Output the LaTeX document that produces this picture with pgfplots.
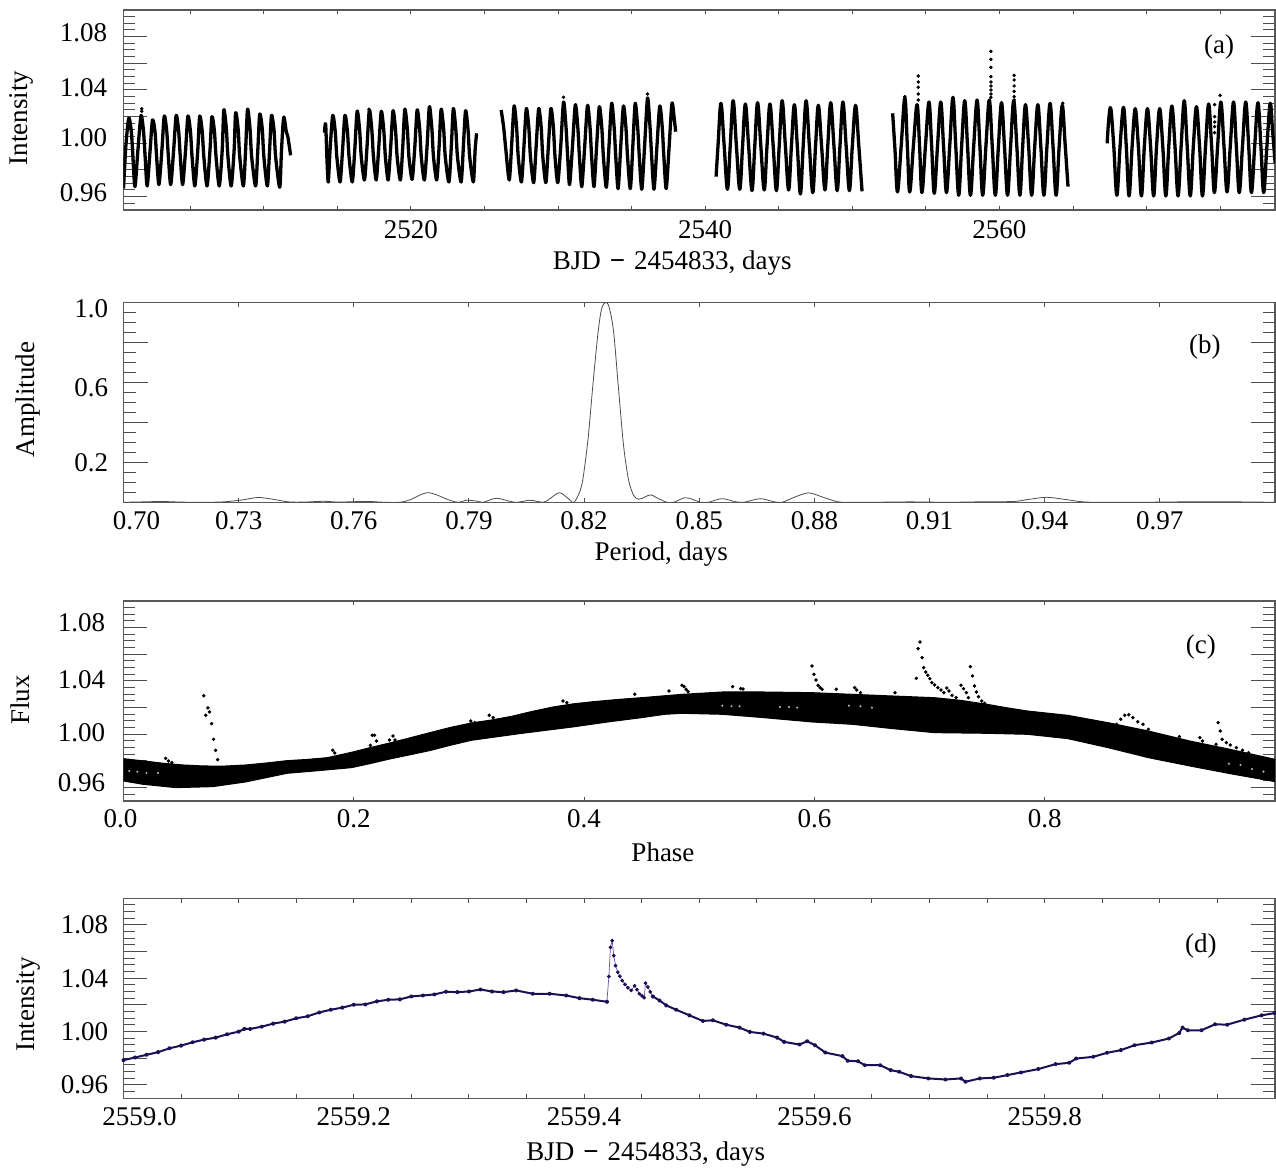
\documentclass[border=0pt]{standalone}
\usepackage{fontspec}
\setmainfont{Liberation Serif}
\usepackage{pgfplots}
\pgfplotsset{compat=1.18}
\newcommand\rb[2]{\raisebox{#1}[9pt][0pt]{#2}}
\definecolor{axgray}{gray}{0.35}
\definecolor{tkgray}{gray}{0.3}
\definecolor{navy}{RGB}{30,15,85}
\definecolor{purp}{RGB}{110,80,170}
\tikzset{panellab/.style={font=\fontsize{13.5}{16}\selectfont,inner sep=0pt}}
\pgfplotsset{
  panel/.style={scale only axis,width=575.75pt,height=100pt,anchor=south west,
    axis line style={axgray,line width=0.65pt},
    tick align=inside,
    every tick/.style={tkgray,line width=0.5pt},
    major tick length=12pt,minor tick length=6pt,
    xtick style={/pgfplots/major tick length=2.2pt,/pgfplots/minor tick length=2.2pt},
    tick label style={inner sep=0pt},
    yticklabel style={anchor=east},
    yticklabel shift=8pt,
    xticklabel style={anchor=north},
    scaled ticks=false,
    every axis label/.style={},
    label style={font=\fontsize{13.5}{16}\selectfont},
    tick label style={font=\fontsize{13.5}{16}\selectfont},
    clip=true},
  flux/.style={ymin=0.95,ymax=1.10,
    ytick={0.96,0.98,1.00,1.02,1.04,1.06,1.08},
    minor ytick={0.955,0.965,0.97,0.975,0.985,0.99,0.995,1.005,1.01,1.015,1.025,1.03,1.035,1.045,1.05,1.055,1.065,1.07,1.075,1.085,1.09,1.095}},
  dots/.style={only marks,mark=*,mark size=0.65pt,black,mark options={draw=black,fill=black}},
  curvea/.style={black,line width=1.65pt,smooth,tension=0.45,line join=round},
  curveb/.style={black,line width=1.65pt,smooth,tension=0.6,line join=round},
  curved/.style={navy,line width=1pt,line join=round,mark=*,mark size=0.6pt,mark options={navy,fill=navy}}
}
\begin{document}
\begin{tikzpicture}
\path[use as bounding box] (0pt,0pt) rectangle (638pt,585.5pt);
% ---------------- (a)
\begin{axis}[panel,flux,at={(61.75pt,480.5pt)},
  xmin=2500.46,xmax=2578.73,
  xtick={2520,2540,2560},xticklabels={2520,2540,2560},
  minor xtick={2505,2510,2515,2525,2530,2535,2545,2550,2555,2565,2570,2575},
  xticklabel shift=5pt,
  yticklabels={\rb{1.85pt}{0.96},,\rb{3.1pt}{1.00},,\rb{1pt}{1.04},,\rb{1.85pt}{1.08}},
  xlabel={BJD\,\,{\bfseries −}\,\,2454833, days},
  xlabel style={at={(rel axis cs:0.4765,0)},anchor=center,yshift=-26.5pt},
  ylabel={Intensity},
  ylabel style={at={(rel axis cs:0,0.46)},anchor=center,yshift=51pt},
]
\addplot[curvea] coordinates {
(2500.46,.966)(2500.62,.998)(2500.82,1.019)(2500.99,1.009)(2501.10,.99)(2501.24,.9675)(2501.44,.995)
(2501.65,1.021)(2501.82,1.009)(2501.93,.99)(2502.07,.968)(2502.27,.995)
(2502.43,1.0175)(2502.60,1.009)(2502.71,.99)(2502.87,.969)(2503.07,.995)
(2503.23,1.0205)(2503.40,1.009)(2503.51,.99)(2503.67,.969)(2503.87,.995)
(2504.04,1.021)(2504.21,1.009)(2504.32,.99)(2504.48,.969)(2504.68,.995)
(2504.84,1.0205)(2505.01,1.009)(2505.12,.99)(2505.31,.968)(2505.51,.995)
(2505.64,1.0205)(2505.81,1.009)(2505.92,.99)(2506.14,.968)(2506.34,.995)
(2506.47,1.02)(2506.64,1.009)(2506.75,.99)(2506.97,.968)(2507.17,.995)
(2507.28,1.025)(2507.45,1.011)(2507.56,.99)(2507.78,.968)(2507.98,.995)
(2508.08,1.023)(2508.25,1.011)(2508.36,.99)(2508.61,.968)(2508.76,.995)
(2508.89,1.0255)(2509.06,1.011)(2509.17,.99)(2509.44,.968)(2509.59,.995)
(2509.72,1.022)(2509.89,1.011)(2510.0,.99)(2510.24,.968)(2510.39,.995)
(2510.52,1.021)(2510.69,1.01)(2510.80,.99)(2511.08,.967)(2511.2,.995)
(2511.35,1.0195)(2511.52,1.009)(2511.63,1.005)(2511.82,.991)};
\addplot[curvea] coordinates {
(2514.12,1.008)(2514.2,1.0145)(2514.3,.985)(2514.38,.971)(2514.5,.995)
(2514.68,1.021)(2514.85,1.009)(2514.96,.99)(2515.18,.971)(2515.35,.995)
(2515.51,1.021)(2515.68,1.009)(2515.79,.99)(2516.01,.971)(2516.18,.995)
(2516.34,1.024)(2516.51,1.01)(2516.62,.99)(2516.84,.9725)(2517.01,.997)
(2517.17,1.025)(2517.34,1.01)(2517.45,.99)(2517.64,.9725)(2517.81,.997)
(2517.98,1.024)(2518.15,1.01)(2518.26,.99)(2518.45,.9725)(2518.62,.997)
(2518.78,1.0245)(2518.95,1.01)(2519.06,.99)(2519.28,.9725)(2519.44,.997)
(2519.58,1.0255)(2519.75,1.011)(2519.86,.99)(2520.08,.973)(2520.26,.997)
(2520.42,1.025)(2520.59,1.011)(2520.70,.99)(2520.91,.9725)(2521.09,.997)
(2521.25,1.0275)(2521.42,1.011)(2521.53,.99)(2521.75,.9725)(2521.91,.997)
(2522.05,1.0255)(2522.22,1.011)(2522.33,.99)(2522.58,.971)(2522.74,.997)
(2522.88,1.026)(2523.05,1.01)(2523.16,.99)(2523.41,.971)(2523.56,.997)
(2523.71,1.0245)(2523.88,1.01)(2523.99,.99)(2524.24,.971)(2524.36,.995)(2524.46,1.0075)};
\addplot[curvea] coordinates {
(2526.13,1.025)(2526.3,1.012)(2526.45,.995)(2526.68,.9725)(2526.85,1.0)
(2527.01,1.028)(2527.18,1.012)(2527.29,.99)(2527.51,.971)(2527.68,.998)
(2527.84,1.026)(2528.01,1.012)(2528.12,.99)(2528.34,.9705)(2528.51,.998)
(2528.68,1.026)(2528.85,1.012)(2528.96,.99)(2529.17,.9705)(2529.34,.998)
(2529.51,1.026)(2529.68,1.012)(2529.79,.99)(2529.98,.9705)(2530.18,.998)
(2530.37,1.031)(2530.54,1.012)(2530.65,.99)(2530.78,.969)(2530.98,.998)
(2531.17,1.029)(2531.34,1.012)(2531.45,.99)(2531.61,.9675)(2531.81,.998)
(2532.00,1.0285)(2532.17,1.012)(2532.28,.99)(2532.44,.9675)(2532.62,.998)
(2532.80,1.0275)(2532.97,1.012)(2533.08,.99)(2533.28,.967)(2533.46,.998)
(2533.64,1.03)(2533.81,1.012)(2533.92,.99)(2534.08,.966)(2534.26,.998)
(2534.44,1.028)(2534.61,1.012)(2534.72,.99)(2534.91,.966)(2535.08,.998)
(2535.24,1.03)(2535.41,1.012)(2535.52,.99)(2535.69,.9655)(2535.88,.998)
(2536.08,1.034)(2536.25,1.012)(2536.36,.99)(2536.52,.9655)(2536.72,.998)
(2536.91,1.028)(2537.08,1.012)(2537.19,.99)(2537.35,.966)(2537.55,.998)
(2537.74,1.03)(2537.9,1.018)(2537.99,1.00875)};
\addplot[curveb] coordinates {
(2540.74,.975)(2540.88,1.0)(2541.07,1.03)(2541.29,.998)(2541.51,.9655)(2541.7,.998)
(2541.90,1.032)(2542.12,.998)(2542.35,.9655)(2542.54,.998)
(2542.73,1.0295)(2542.95,.998)(2543.18,.9645)(2543.37,.998)
(2543.56,1.0305)(2543.78,.998)(2544.01,.965)(2544.2,.998)
(2544.40,1.0295)(2544.62,.998)(2544.84,.9645)(2545.03,.998)
(2545.23,1.032)(2545.45,.998)(2545.67,.965)(2545.86,.998)
(2546.06,1.029)(2546.26,.998)(2546.47,.962)(2546.66,.998)
(2546.86,1.032)(2547.08,.998)(2547.31,.963)(2547.5,.998)
(2547.69,1.0285)(2547.91,.998)(2548.14,.965)(2548.33,.998)
(2548.53,1.0305)(2548.75,.998)(2548.97,.9645)(2549.16,.998)
(2549.36,1.031)(2549.58,.998)(2549.80,.9645)(2550.0,.998)
(2550.22,1.0285)(2550.44,.998)(2550.66,.964)};
\addplot[curveb] coordinates {
(2552.74,1.0225)(2552.9,.995)(2553.07,.9635)(2553.32,.998)
(2553.57,1.034)(2553.74,.998)(2553.90,.9635)(2554.15,.998)
(2554.40,1.029)(2554.57,.998)(2554.73,.963)(2554.97,.998)
(2555.21,1.031)(2555.39,.998)(2555.57,.9625)(2555.79,.998)
(2556.01,1.031)(2556.2,.998)(2556.40,.963)(2556.62,.998)
(2556.84,1.0345)(2557.03,.998)(2557.23,.961)(2557.43,.998)
(2557.64,1.032)(2557.83,.998)(2558.03,.961)(2558.25,.998)
(2558.48,1.0325)(2558.67,.998)(2558.86,.961)(2559.08,.998)
(2559.31,1.0325)(2559.51,.998)(2559.72,.961)(2559.93,.998)
(2560.14,1.0305)(2560.34,.998)(2560.55,.961)(2560.76,.998)
(2560.97,1.032)(2561.18,.998)(2561.39,.961)(2561.58,.998)
(2561.77,1.029)(2561.98,.998)(2562.19,.961)(2562.4,.998)
(2562.61,1.029)(2562.81,.998)(2563.02,.961)(2563.23,.998)
(2563.44,1.03)(2563.64,.998)(2563.85,.961)(2564.06,.998)
(2564.27,1.0285)(2564.46,1.0)(2564.66,.9675)};
\addplot[curveb] coordinates {
(2567.32,1.0)(2567.43,1.018)(2567.57,1.026)(2567.77,.998)(2567.98,.961)(2568.2,.998)
(2568.43,1.027)(2568.62,.998)(2568.81,.9605)(2569.02,.998)
(2569.23,1.026)(2569.44,.998)(2569.65,.9605)(2569.85,.998)
(2570.06,1.026)(2570.27,.998)(2570.48,.9605)(2570.68,.998)
(2570.89,1.026)(2571.1,.998)(2571.31,.9605)(2571.51,.998)
(2571.72,1.028)(2571.93,.998)(2572.14,.9605)(2572.35,.998)
(2572.56,1.032)(2572.76,.998)(2572.97,.9605)(2573.18,.998)
(2573.39,1.0275)(2573.6,.998)(2573.80,.9605)(2574.01,.998)
(2574.22,1.0295)(2574.42,.998)(2574.61,.963)(2574.83,.998)
(2575.05,1.031)(2575.26,.998)(2575.47,.9635)(2575.69,.998)
(2575.91,1.031)(2576.1,.998)(2576.30,.963)(2576.52,.998)
(2576.74,1.031)(2576.94,.998)(2577.13,.963)(2577.35,.998)
(2577.57,1.0305)(2577.77,.998)(2577.96,.963)(2578.18,.998)
(2578.40,1.03)(2578.56,1.01)(2578.74,.985)};
\addplot[dots] coordinates {
(2554.48,1.0505)(2554.48,1.046)(2554.48,1.042)(2554.48,1.037)(2554.48,1.0325)
(2559.42,1.069)(2559.42,1.063)(2559.42,1.057)(2559.42,1.05)(2559.42,1.046)(2559.42,1.043)(2559.42,1.04)(2559.42,1.037)(2559.42,1.0345)
(2560.998,1.051)(2560.998,1.0475)(2560.998,1.043)(2560.998,1.039)(2560.998,1.035)(2560.998,1.0325)
(2575.0,1.036)(2574.63,1.029)(2574.63,1.02)(2574.63,1.016)(2574.63,1.0125)(2574.63,1.008)
(2501.7,1.026)(2501.7,1.024)(2517.15,1.0255)(2530.37,1.0345)(2536.08,1.037)(2553.57,1.035)(2564.3,1.03)};
\node[panellab] at (rel axis cs:0.9514,0.815) {(a)};
\end{axis}
% ---------------- (b)
\begin{axis}[panel,at={(61.75pt,334.35pt)},
  xmin=0.70,xmax=1.00,ymin=0,ymax=1,
  xtick={0.70,0.73,0.76,0.79,0.82,0.85,0.88,0.91,0.94,0.97},
  xticklabels={\kern13pt 0.70,0.73,0.76,0.79,0.82,0.85,0.88,0.91,0.94,0.97},
  xticklabel shift=4.4pt,
  ytick={0.2,0.4,0.6,0.8,1.0},
  yticklabels={0.2,,\rb{-2.4pt}{0.6},,\rb{-2.9pt}{1.0}},
  minor ytick={0.05,0.1,0.15,0.25,0.3,0.35,0.45,0.5,0.55,0.65,0.7,0.75,0.85,0.9,0.95},
  yticklabel shift=7.5pt,
  xlabel={Period, days},
  xlabel style={at={(rel axis cs:0.467,0)},anchor=center,yshift=-25.8pt},
  ylabel={Amplitude},
  ylabel style={at={(rel axis cs:0,0.515)},anchor=center,yshift=47.5pt},
]
\addplot[black!70,line width=0.4pt,smooth,tension=0.5] coordinates {
(0.700,0)(0.705,0.002)(0.710,0.004)(0.715,0.001)(0.720,0)(0.726,0.002)(0.731,0.012)(0.735,0.024)(0.739,0.015)(0.743,0.002)(0.747,0.001)(0.752,0.005)(0.756,0.001)(0.760,0.003)(0.764,0.004)(0.768,0)
(0.772,0)(0.7746,0.012)(0.7794,0.048)(0.785,0.010)(0.7872,0)(0.7894,0.010)(0.792,0.006)(0.7937,0)(0.7972,0.020)(0.802,0)(0.8059,0.010)(0.8094,0)(0.8111,0.018)(0.8136,0.048)(0.8159,0.018)(0.817,0)(0.8177,0.007)(0.819,0.060)(0.8198,0.13)(0.8211,0.33)(0.8224,0.61)(0.8237,0.86)(0.8246,0.97)(0.8257,1.0)(0.8266,0.97)(0.8277,0.85)(0.829,0.56)(0.8303,0.28)(0.8316,0.11)(0.8329,0.035)(0.8342,0.015)(0.8359,0.027)(0.8374,0.037)(0.8394,0.018)(0.8416,0)(0.8433,0)(0.8463,0.023)(0.8485,0.013)(0.8503,0)(0.8524,0)(0.8559,0.018)(0.8594,0.003)(0.8616,0)(0.8659,0.018)(0.8694,0.003)(0.8716,0)(0.875,0.027)(0.8785,0.047)(0.882,0.027)(0.8859,0.003)(0.8885,0)
(0.895,0)(0.905,0.002)(0.915,0)(0.925,0.003)(0.932,0.004)(0.936,0.015)(0.9405,0.025)(0.945,0.015)(0.950,0.002)(0.955,0)(0.965,0)(0.975,0.002)(0.985,0.003)(1.0,0)};
\node[panellab] at (rel axis cs:0.939,0.7765) {(b)};
\end{axis}
% ---------------- (c)
\begin{axis}[panel,flux,at={(61.75pt,185pt)},
  xmin=0,xmax=1,
  xtick={0,0.2,0.4,0.6,0.8},xticklabels={0.0\kern3pt,0.2,0.4,0.6,0.8},
  xticklabel shift=4pt,
  yticklabels={\rb{2.5pt}{0.96},,\rb{1pt}{1.00},,\rb{0.5pt}{1.04},,\rb{2.35pt}{1.08}},
  yticklabel shift=9pt,
  xlabel={Phase},
  xlabel style={at={(rel axis cs:0.4685,0)},anchor=center,yshift=-25.5pt},
  ylabel={Flux},
  ylabel style={at={(rel axis cs:0,0.505)},anchor=center,yshift=51.5pt},
]
\addplot[fill=black,draw=black,line width=0.5pt] coordinates {
(0,.98175)(.018,.98)(.035,.97825)(.052,.9770)(.070,.97625)(.088,.9762)(.106,.977)(.124,.9785)(.142,.98025)(.160,.9812)(.177,.9825)(.198,.9865)(.214,.9900)(.230,.99325)(.248,.9972)(.266,1.00125)(.284,1.0052)(.302,1.0085)(.320,1.0108)(.337,1.0135)(.355,1.0172)(.373,1.0205)(.390,1.0228)(.408,1.0245)(.430,1.0262)(.450,1.0275)(.485,1.03)(.52,1.03175)(.556,1.03175)(.598,1.03125)(.633,1.03)(.668,1.02875)(.704,1.0275)(.727,1.0255)(.75,1.0225)(.768,1.0198)(.785,1.0175)(.82,1.01425)(.855,1.00875)(.89,1.0025)(.926,.995)(.961,.98875)(1.0,.98125)
(1.0,.9645)(.961,.9705)(.926,.97625)(.89,.9825)(.855,.99)(.82,.99675)(.785,1.0)(.75,1.00075)(.704,1.00125)(.668,1.00425)(.633,1.0075)(.598,1.00925)(.556,1.0125)(.52,1.015)(.485,1.01575)(.47,1.015)(.45,1.0125)(.42,1.0092)(.39,1.0055)(.344,1.0005)(.302,.9955)(.284,.9918)(.266,.9878)(.248,.9845)(.23,.98125)(.214,.978)(.198,.975)(.17,.9728)(.142,.97075)(.124,.9675)(.106,.96425)(.0775,.96075)(.0455,.96)(.017,.9625)(0,.965)} --cycle;
\addplot[dots] coordinates {
(.0697,1.029)(.0733,1.0198)(.0715,1.0143)(.0747,1.0168)(.0765,1.008)(.0782,.99625)(.08,.988)(.0818,.981)(.0366,.982)(.039,.98)(.042,.97875)(.1817,.988)(.1835,.986)(.216,.99925)(.218,.99925)(.2144,.99175)(.2198,.995)(.234,.99875)(.231,.99575)(.2358,.99575)(.3016,1.01)(.305,1.00875)(.3176,1.01425)(.321,1.0125)(.3816,1.025)(.385,1.02375)(.444,1.03)
(.4737,1.0325)(.485,1.03675)(.4868,1.03575)(.4886,1.03375)(.4903,1.032)(.529,1.03575)(.536,1.03425)(.538,1.034)
(.5979,1.05125)(.5996,1.045)(.6014,1.04075)(.6032,1.03675)(.605,1.035)(.6067,1.03375)(.619,1.03375)(.635,1.035)(.6367,1.03325)(.640,1.03125)(.670,1.03125)
(.6917,1.06925)(.69,1.06425)(.6935,1.0575)(.6885,1.042)(.6949,1.05)(.6967,1.04675)(.6984,1.04425)(.7002,1.04175)(.702,1.03875)(.7044,1.037)(.7072,1.035)(.71,1.03325)(.7125,1.03125)(.715,1.03475)(.7168,1.0325)(.7196,1.02925)(.723,1.0275)
(.7273,1.03675)(.7295,1.03425)(.732,1.03125)(.7337,1.0275)(.7354,1.05075)(.7372,1.04375)(.739,1.03625)(.7407,1.03175)(.7425,1.02825)(.7453,1.025)(.7478,1.02325)
(.8624,1.0075)(.866,1.01125)(.8695,1.01425)(.873,1.01475)(.8766,1.0125)(.8808,1.0095)(.8854,1.0075)(.89,1.00375)
(.917,.99825)(.9347,.9975)(.937,.995)(.9506,1.00875)(.9524,1.0025)(.9541,.99625)(.9577,.99375)(.9612,.992)(.9665,.99)(.9718,.988)(.977,.98625)(.9488,.9925)};
\addplot[only marks,mark=*,mark size=0.3pt,white!70!black,mark options={draw=none}] coordinates {
(.005,.9725)(.012,.972)(.02,.971)(.03,.971)(.52,1.0215)(.528,1.021)(.535,1.021)(.57,1.0205)(.578,1.0205)(.585,1.02)(.63,1.0215)(.64,1.021)(.65,1.02)
(.96,.978)(.97,.977)(.98,.974)(.99,.972)};
\node[panellab] at (rel axis cs:0.9357,0.77) {(c)};
\end{axis}
% ---------------- (d): x is days after 2559.0
\begin{axis}[panel,flux,at={(61.75pt,36.35pt)},
  xmin=0,xmax=1,
  xtick={0,0.2,0.4,0.6,0.8},
  xticklabels={\kern16pt 2559.0,2559.2,2559.4,2559.6,2559.8},
  minor xtick={0.05,0.1,0.15,0.25,0.3,0.35,0.45,0.5,0.55,0.65,0.7,0.75,0.85,0.9,0.95},
  xticklabel shift=4.4pt,
  yticklabels={0.96,,1.00,,1.04,,1.08},
  yticklabel shift=7.5pt,
  xlabel={BJD\,\,{\bfseries −}\,\,2454833, days},
  xlabel style={at={(rel axis cs:0.4535,0)},anchor=center,yshift=-28pt},
  ylabel={Intensity},
  ylabel style={at={(rel axis cs:0,0.47)},anchor=center,yshift=47.5pt},
]
\addplot[curved] coordinates {
(.00,.9786)(.01,.9806)(.02,.9826)(.03,.9846)(.04,.9875)(.05,.9895)(.06,.992)(.07,.994)(.08,.9955)(.09,.998)(.10,1.0)(.105,1.002)(.11,1.002)(.12,1.0037)(.13,1.006)(.14,1.0075)(.15,1.01)(.16,1.0115)(.17,1.0144)(.18,1.0164)(.19,1.018)(.20,1.0202)(.21,1.0204)(.22,1.0227)(.23,1.0239)(.24,1.0242)(.25,1.0264)(.26,1.0271)(.27,1.0279)(.28,1.0299)(.29,1.0296)(.30,1.0301)(.31,1.0316)(.32,1.0301)(.33,1.0296)(.341,1.0309)(.3555,1.0284)(.37,1.0284)(.3845,1.0271)(.396,1.0251)(.4076,1.0239)(.4198,1.0224)};
\addplot[purp,line width=0.35pt,mark=*,mark size=0.75pt,mark options={navy,fill=navy}] coordinates {
(.4198,1.0224)(.4215,1.0413)(.4229,1.0632)(.4244,1.0682)(.4258,1.057)(.4273,1.0495)(.4293,1.0446)(.431,1.0415)(.4331,1.0383)(.4355,1.0355)(.438,1.0329)(.4409,1.0309)(.4438,1.0344)(.446,1.0315)(.4481,1.0284)(.4502,1.0268)(.4522,1.0254)(.4533,1.0363)(.4554,1.0334)(.4575,1.0298)(.4597,1.0264)};
\addplot[curved] coordinates {
(.4597,1.0264)(.4655,1.0234)(.4713,1.0197)(.48,1.0164)(.4915,1.0122)(.5031,1.008)(.5118,1.0085)(.5234,1.0052)(.535,1.003)(.5439,.9998)(.5558,.9985)(.5677,.9955)(.5737,.9923)(.5871,.9903)(.5937,.9928)(.6005,.9898)(.6095,.9843)(.6244,.9816)(.6289,.9781)(.6378,.9778)(.6438,.9748)(.6572,.9748)(.6662,.9711)(.6736,.9699)(.684,.9666)(.699,.9649)(.7139,.9641)(.7273,.9649)(.7312,.9624)(.7437,.9649)(.7557,.9654)(.7676,.9674)(.7795,.9694)(.7944,.9719)(.8094,.9756)(.8213,.9766)(.8273,.9798)(.8422,.9811)(.8541,.9841)(.8661,.9861)(.878,.9898)(.8929,.9918)(.9078,.9948)(.9168,.999)(.9197,1.003)(.9242,1.001)(.9361,1.001)(.948,1.0055)(.9585,1.0052)(.9734,1.009)(.9883,1.0122)(.9997,1.0139)};
\node[panellab] at (rel axis cs:0.9357,0.7625) {(d)};
\end{axis}
\end{tikzpicture}
\end{document}
